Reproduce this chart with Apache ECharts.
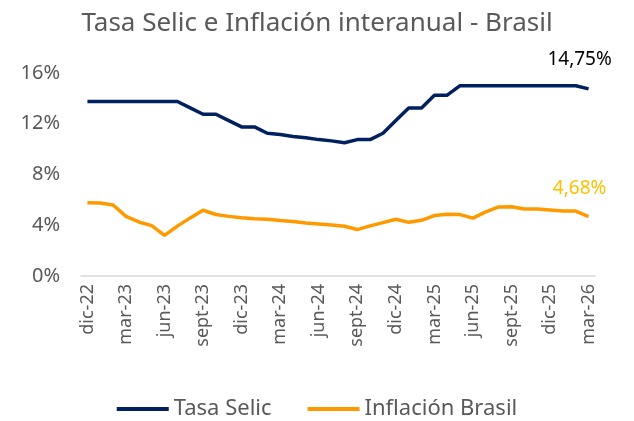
<!DOCTYPE html>
<html>
<head>
    <meta charset="utf-8">
    <title>Tasa Selic e Inflación</title>
    <script src="https://cdn.jsdelivr.net/npm/echarts@6/dist/echarts.min.js"></script>
</head>
<body style="margin:0;background:#fff;">
<div id="main" style="width:634px;height:421px;"></div>
<script type="text/javascript">
    // meses dic-22 .. mar-26
    var months = ['dic-22', 'ene-23', 'feb-23', 'mar-23', 'abr-23', 'may-23', 'jun-23', 'jul-23', 'ago-23', 'sept-23',
        'oct-23', 'nov-23', 'dic-23', 'ene-24', 'feb-24', 'mar-24', 'abr-24', 'may-24', 'jun-24', 'jul-24',
        'ago-24', 'sept-24', 'oct-24', 'nov-24', 'dic-24', 'ene-25', 'feb-25', 'mar-25', 'abr-25', 'may-25',
        'jun-25', 'jul-25', 'ago-25', 'sept-25', 'oct-25', 'nov-25', 'dic-25', 'ene-26', 'feb-26', 'mar-26'];

    var selic = [13.75, 13.75, 13.75, 13.75, 13.75, 13.75, 13.75, 13.75, 13.25, 12.75,
        12.75, 12.25, 11.75, 11.75, 11.25, 11.15, 11.0, 10.9, 10.75, 10.65,
        10.5, 10.75, 10.75, 11.25, 12.25, 13.25, 13.25, 14.25, 14.25, 15.0,
        15.0, 15.0, 15.0, 15.0, 15.0, 15.0, 15.0, 15.0, 15.0, 14.75];

    var inflacion = [5.78, 5.75, 5.6, 4.7, 4.26, 3.97, 3.2, 3.93, 4.58, 5.18,
        4.85, 4.7, 4.6, 4.52, 4.47, 4.37, 4.29, 4.18, 4.1, 4.02,
        3.92, 3.66, 3.95, 4.21, 4.47, 4.23, 4.39, 4.76, 4.86, 4.84,
        4.56, 5.05, 5.44, 5.46, 5.28, 5.28, 5.2, 5.12, 5.12, 4.68];

    var yTicks = [0, 4, 8, 12, 16];

    var fontFam = "'Noto Sans', sans-serif";
    var gray = '#595959';

    // etiqueta solo en el ultimo punto
    function lastLabel(arr, color, offset) {
        var out = arr.slice();
        var n = out.length - 1;
        out[n] = {
            value: out[n],
            label: {
                show: true,
                position: 'top',
                offset: offset,
                color: color,
                fontSize: 19,
                fontFamily: fontFam,
                formatter: function (p) {
                    return p.value.toFixed(2).replace('.', ',') + '%';
                }
            }
        };
        return out;
    }

    var myChart = echarts.init(document.getElementById('main'));
    var option = {
        animation: false,
        title: {
            text: 'Tasa Selic e Inflación interanual - Brasil',
            left: 'center',
            top: 6,
            textStyle: {color: gray, fontSize: 26, fontWeight: 'normal', fontFamily: fontFam}
        },
        grid: {left: 81, right: 39, top: 73, bottom: 145, containLabel: false},
        legend: {
            top: 393,
            left: 'center',
            itemWidth: 52,
            itemHeight: 4,
            itemGap: 36,
            icon: 'rect',
            textStyle: {color: gray, fontSize: 22, fontFamily: fontFam},
            data: ['Tasa Selic', 'Inflación Brasil']
        },
        xAxis: {
            type: 'category',
            data: months,
            boundaryGap: true,
            axisLine: {lineStyle: {color: '#d9d9d9', width: 1.5}},
            axisTick: {show: false},
            axisLabel: {
                rotate: 90,
                interval: 2,
                margin: 8,
                color: gray,
                fontSize: 18,
                fontFamily: fontFam
            }
        },
        yAxis: {
            type: 'value',
            min: yTicks[0],
            max: yTicks[yTicks.length - 1],
            interval: 4,
            splitLine: {show: false},
            axisLine: {show: false},
            axisTick: {show: false},
            axisLabel: {
                formatter: '{value}%',
                color: gray,
                fontSize: 20,
                margin: 21,
                fontFamily: fontFam
            }
        },
        series: [
            {
                name: 'Tasa Selic',
                type: 'line',
                data: lastLabel(selic, '#000000', [-9, -15]),
                symbol: 'circle',
                symbolSize: 0,
                showSymbol: true,
                lineStyle: {color: '#002060', width: 3.5},
                itemStyle: {color: '#002060'}
            },
            {
                name: 'Inflación Brasil',
                type: 'line',
                data: lastLabel(inflacion, '#FFC000', [-9, -14]),
                symbol: 'circle',
                symbolSize: 0,
                showSymbol: true,
                lineStyle: {color: '#FF9900', width: 3.5},
                itemStyle: {color: '#FF9900'}
            }
        ]
    };
    myChart.setOption(option);
</script>
</body>
</html>
